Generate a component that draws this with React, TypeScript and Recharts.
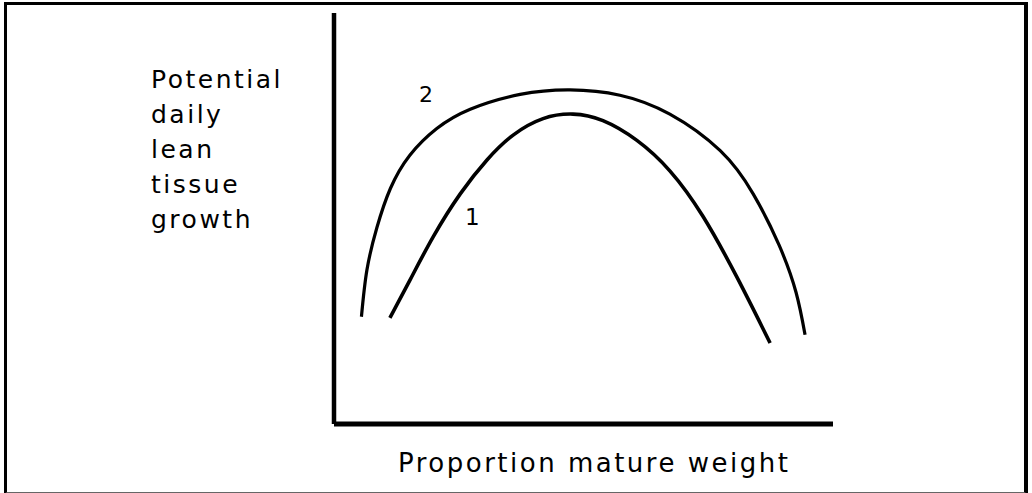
import { Line, LineChart, XAxis, YAxis } from 'recharts';

// Values, in arbitrary units (0-100 on both axes).
const CURVE_2 = [
  { x: 5.5, y: 26.1 },
  { x: 6.6, y: 37.5 },
  { x: 8.6, y: 47.8 },
  { x: 11.3, y: 57.3 },
  { x: 15.2, y: 65.4 },
  { x: 20.6, y: 71.9 },
  { x: 27.3, y: 76.6 },
  { x: 37.3, y: 80.2 },
  { x: 47.3, y: 81.3 },
  { x: 57.3, y: 80.0 },
  { x: 67.3, y: 75.4 },
  { x: 77.4, y: 66.5 },
  { x: 84.0, y: 56.0 },
  { x: 89.2, y: 43.5 },
  { x: 92.6, y: 32.0 },
  { x: 94.4, y: 21.7 },
];

const CURVE_1 = [
  { x: 11.2, y: 25.8 },
  { x: 15.3, y: 35.2 },
  { x: 19.9, y: 45.6 },
  { x: 25.3, y: 56.0 },
  { x: 30.7, y: 64.3 },
  { x: 35.9, y: 70.3 },
  { x: 41.9, y: 74.3 },
  { x: 47.9, y: 75.4 },
  { x: 53.9, y: 73.8 },
  { x: 60.7, y: 69.0 },
  { x: 67.3, y: 61.6 },
  { x: 73.9, y: 50.6 },
  { x: 80.8, y: 35.6 },
  { x: 87.4, y: 19.7 },
];

const Y_LABEL_LINES = ['Potential', 'daily', 'lean', 'tissue', 'growth'];
const X_LABEL = 'Proportion mature weight';

const FONT = '"DejaVu Sans", sans-serif';

export default function App() {
  return (
    <div
      style={{
        position: 'absolute',
        left: 0,
        top: 0,
        width: 1032,
        height: 493,
        background: '#fff',
        fontFamily: FONT,
        color: '#000',
      }}
    >
      {/* outer frame */}
      <div
        style={{
          position: 'absolute',
          left: 4,
          top: 2,
          width: 1017,
          height: 487,
          borderTop: '3px solid #000',
          borderLeft: '3px solid #000',
          borderRight: '4px solid #000',
          borderBottom: '2px solid #666',
        }}
      />

      <LineChart
        width={1032}
        height={493}
        margin={{ top: 13, right: 199, bottom: 68, left: 333 }}
        style={{ position: 'absolute', left: 0, top: 0 }}
      >
        <XAxis
          type="number"
          dataKey="x"
          domain={[0, 100]}
          allowDataOverflow
          tick={false}
          tickLine={false}
          height={1}
          axisLine={{ stroke: '#000', strokeWidth: 5 }}
        />
        <YAxis
          type="number"
          dataKey="y"
          domain={[0, 100]}
          allowDataOverflow
          tick={false}
          tickLine={false}
          width={1}
          axisLine={{ stroke: '#000', strokeWidth: 4.5 }}
        />
        <Line
          data={CURVE_2}
          dataKey="y"
          type="natural"
          stroke="#000"
          strokeWidth={3.2}
          dot={false}
          isAnimationActive={false}
        />
        <Line
          data={CURVE_1}
          dataKey="y"
          type="natural"
          stroke="#000"
          strokeWidth={3.6}
          dot={false}
          isAnimationActive={false}
        />
      </LineChart>

      <div
        style={{
          position: 'absolute',
          left: 151,
          top: 62,
          fontSize: 25,
          lineHeight: '35px',
          letterSpacing: 2.5,
        }}
      >
        {Y_LABEL_LINES.map((t) => (
          <div key={t}>{t}</div>
        ))}
      </div>

      <div
        style={{
          position: 'absolute',
          left: 398,
          top: 448,
          fontSize: 26,
          lineHeight: '30px',
          letterSpacing: 2.5,
          whiteSpace: 'nowrap',
        }}
      >
        {X_LABEL}
      </div>

      <div style={{ position: 'absolute', left: 419, top: 82, fontSize: 22, lineHeight: '26px' }}>2</div>
      <div style={{ position: 'absolute', left: 465, top: 204, fontSize: 23, lineHeight: '26px' }}>1</div>
    </div>
  );
}
